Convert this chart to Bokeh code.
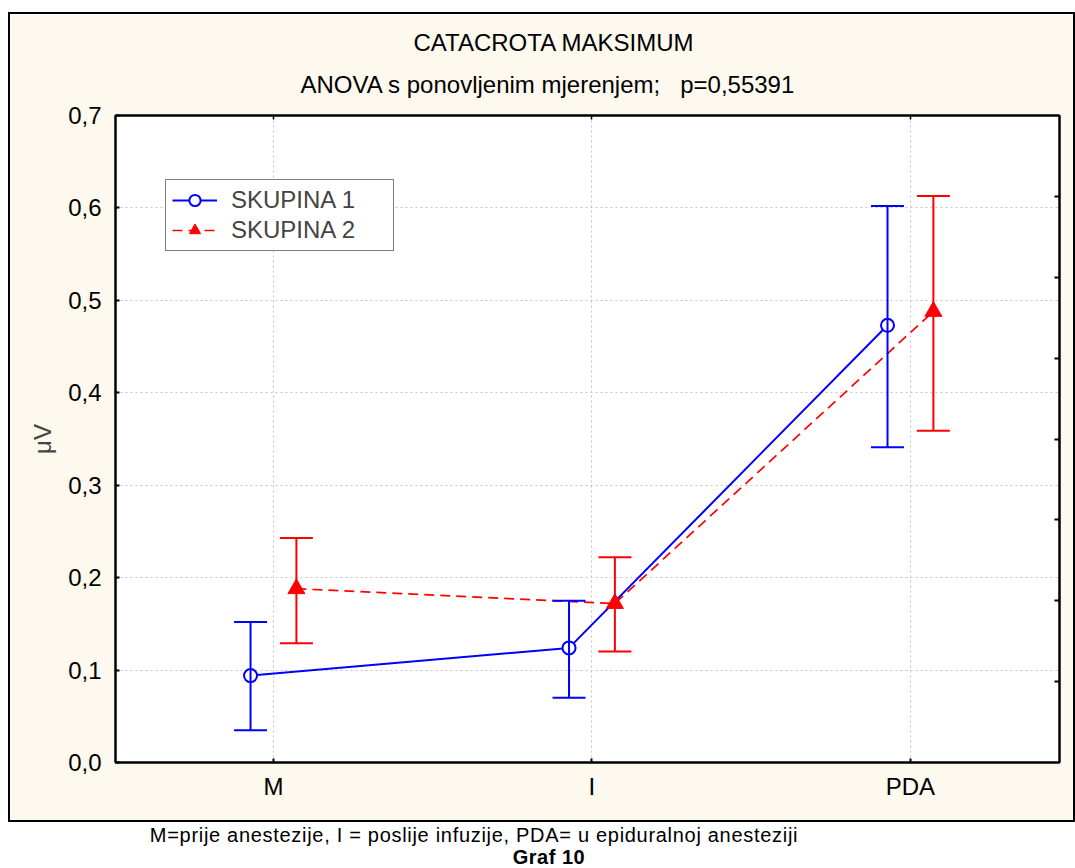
from bokeh.plotting import figure
from bokeh.models import (ColumnDataSource, Whisker, TeeHead, Legend, LegendItem,
                          LinearAxis, Range1d, FixedTicker, Title, Div, Spacer)
from bokeh.layouts import column, row
from bokeh.embed import file_html
from bokeh.resources import INLINE

# ---------------- data ----------------
categories = ["M", "I", "PDA"]
cat_pos = [0, 1, 2]

s1_name = "SKUPINA 1"
s1_mean = [0.094, 0.124, 0.473]
s1_upper = [0.152, 0.175, 0.602]
s1_lower = [0.035, 0.070, 0.341]

s2_name = "SKUPINA 2"
s2_mean = [0.188, 0.172, 0.488]
s2_upper = [0.243, 0.222, 0.613]
s2_lower = [0.129, 0.120, 0.359]

y_ticks = [0.0, 0.1, 0.2, 0.3, 0.4, 0.5, 0.6, 0.7]
y_tick_labels = ["0,0", "0,1", "0,2", "0,3", "0,4", "0,5", "0,6", "0,7"]
right_ticks = [1, 2, 3, 4, 5, 6, 7]

title_text = "CATACROTA MAKSIMUM"
subtitle_text = "ANOVA s ponovljenim mjerenjem;\u00a0\u00a0 p=0,55391"
y_label = "μV"
caption_text = "M=prije anestezije, I = poslije infuzije, PDA= u epiduralnoj anesteziji"
caption2_text = "Graf 10"

# ---------------- style ----------------
FONT = "Liberation Sans"
FS = "24px"
CREAM = "#FEF9EF"
BLUE = "#0000FF"
RED = "#FF0000"
OFF = 0.072

x1 = [c - OFF for c in cat_pos]
x2 = [c + OFF for c in cat_pos]

src1 = ColumnDataSource(dict(x=x1, y=s1_mean, upper=s1_upper, lower=s1_lower))
src2 = ColumnDataSource(dict(x=x2, y=s2_mean, upper=s2_upper, lower=s2_lower))

p = figure(width=1063, height=806, output_backend="svg", toolbar_location=None,
           x_range=Range1d(-0.496, 2.468), y_range=Range1d(0, 0.7),
           min_border_left=105, min_border_top=101, min_border_right=14, min_border_bottom=58,
           border_fill_color=CREAM, background_fill_color="white",
           outline_line_color="black", outline_line_width=2)
p.styles = {"outline": "2px solid black"}

# axes
xa = p.xaxis[0]
xa.ticker = FixedTicker(ticks=cat_pos)
xa.major_label_overrides = {c: lab for c, lab in zip(cat_pos, categories)}
ya = p.yaxis[0]
ya.ticker = FixedTicker(ticks=y_ticks)
ya.major_label_overrides = {t: lab for t, lab in zip(y_ticks, y_tick_labels)}
ya.axis_label = y_label
ya.axis_label_standoff = 9
ya.axis_label_text_font_style = "normal"
ya.axis_label_text_font = FONT
ya.axis_label_text_font_size = FS
for ax in (xa, ya):
    ax.major_label_text_font = FONT
    ax.major_label_text_font_size = FS
    ax.major_label_text_color = "black"
    ax.major_tick_in = 4
    ax.major_tick_out = 0
    ax.minor_tick_in = 0
    ax.minor_tick_out = 0
    ax.axis_line_width = 2
    ax.major_tick_line_width = 2
    ax.axis_line_color = "black"
ya.major_label_standoff = 14
xa.major_label_standoff = 10

p.extra_y_ranges = {"r": Range1d(0, 8)}
ra = LinearAxis(y_range_name="r", ticker=FixedTicker(ticks=right_ticks),
                major_label_overrides={t: "" for t in right_ticks},
                major_tick_in=5, major_tick_out=0, minor_tick_in=0, minor_tick_out=0,
                major_label_standoff=0, axis_line_width=2, major_tick_line_width=2)
p.add_layout(ra, "right")
ta = LinearAxis(ticker=FixedTicker(ticks=cat_pos),
                major_label_overrides={c: "" for c in cat_pos},
                major_tick_in=4, major_tick_out=0, minor_tick_in=0, minor_tick_out=0,
                major_label_standoff=0, axis_line_width=2, major_tick_line_width=1.5)
p.add_layout(ta, "above")

# titles
t2 = Title(text=subtitle_text, align="left", offset=185, standoff=31,
           text_font=FONT, text_font_size=FS, text_font_style="normal",
           text_color="black", vertical_align="top")
t1 = Title(text=title_text, align="left", offset=298, standoff=0,
           text_font=FONT, text_font_size=FS, text_font_style="normal",
           text_color="black", vertical_align="bottom")
p.add_layout(t2, "above")
p.add_layout(t1, "above")

# grids
p.xgrid.ticker = FixedTicker(ticks=cat_pos)
p.ygrid.ticker = FixedTicker(ticks=y_ticks)
for g in (p.xgrid[0], p.ygrid[0]):
    g.grid_line_color = "#C4C4C4"
    g.grid_line_dash = "2 3"
    g.grid_line_width = 1

# error bars
for src, col in ((src1, BLUE), (src2, RED)):
    w = Whisker(base="x", upper="upper", lower="lower", source=src,
                line_color=col, line_width=2, level="glyph",
                upper_head=TeeHead(size=33, line_color=col, line_width=2),
                lower_head=TeeHead(size=33, line_color=col, line_width=2))
    p.add_layout(w)

# lines and markers
l1 = p.line("x", "y", source=src1, line_color=BLUE, line_width=2)
m1 = p.scatter("x", "y", source=src1, marker="circle", size=13,
               fill_color="white", line_color=BLUE, line_width=2)
l2 = p.line("x", "y", source=src2, line_color=RED, line_width=1.7, line_dash="10 6")
m2 = p.scatter("x", "y", source=src2, marker="triangle", size=17,
               fill_color=RED, line_color=RED, line_width=1)

legend = Legend(items=[LegendItem(label=s1_name, renderers=[l1, m1]),
                       LegendItem(label=s2_name, renderers=[l2, m2])],
                location=(50, 511), margin=0, padding=6, spacing=2,
                glyph_width=45, glyph_height=28, label_height=28, label_width=156,
                label_standoff=14, label_text_font=FONT, label_text_font_size=FS,
                border_line_color="black", border_line_width=1.5,
                background_fill_color="white", background_fill_alpha=1)
p.add_layout(legend)

caption = Div(text=(
    f'<div style="font-family:\'{FONT}\';font-size:20px;line-height:22px;color:black;margin:0;padding:4px 0 0 0">'
    f'<div style="margin-left:14px;width:900px;text-align:center;white-space:nowrap;letter-spacing:0.7px">{caption_text}</div>'
    f'<div style="margin-left:439px;width:200px;text-align:center;font-weight:bold;letter-spacing:0.5px">{caption2_text}</div>'
    '</div>'), width=1063, height=48, margin=0)

layout = row(Spacer(width=10, height=10),
             column(Spacer(height=14, width=10), p, caption, spacing=0),
             spacing=0)

open("out.html", "w").write(file_html(layout, INLINE))
